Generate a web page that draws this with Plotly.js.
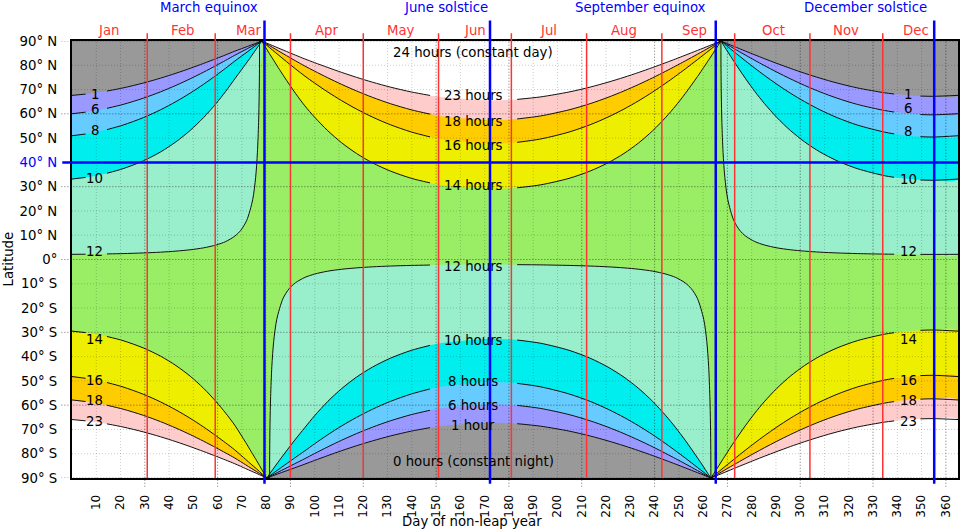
<!DOCTYPE html>
<html><head><meta charset="utf-8">
<script src="https://cdn.plot.ly/plotly-3.0.1.min.js"></script>
<style>html,body{margin:0;padding:0;background:#fff}#chart{width:960px;height:530px}</style>
</head><body><div id="chart"></div>
<script>
// ---------- DATA (day of year, latitude in degrees) ----------
// North, between the March and September equinoxes (long days): contours 14,16,18,23 h
const NS_DAY = [78.2,80.12,82.52,84.92,87.33,92.19,95.94,99.93,105.39,111.12,117.2,123.79,131.14,139.82,147.5,151.46,172.3,183.4,193.14,204.78,213.46,220.81,227.4,233.48,239.21,244.67,248.66,252.57,257.7,260.24,262.77,265.3,267.33];
const NS_14 = [90,86.78,82.93,79.12,75.39,68.26,63.27,58.64,53.03,48.06,43.68,39.82,36.44,33.43,31.55,30.77,29.04,29.53,30.77,33.43,36.44,39.82,43.68,48.06,53.03,58.64,63.27,68.26,75.39,79.12,82.93,86.78,90];
const NS_16 = [90,88.33,86.33,84.34,82.36,78.43,75.53,72.68,68.98,65.40,61.96,58.66,55.51,52.51,50.50,49.66,47.70,48.26,49.66,52.51,55.51,58.66,61.96,65.40,68.98,72.68,75.53,78.43,82.36,84.34,86.33,88.33,90];
const NS_18 = [90,88.82,87.41,85.99,84.58,81.77,79.68,77.59,74.84,72.12,69.43,66.79,64.19,61.65,59.89,59.15,57.39,57.89,59.15,61.65,64.19,66.79,69.43,72.12,74.84,77.59,79.68,81.77,84.58,85.99,87.41,88.82,90];
const NS_23 = [90,89.16,88.15,87.14,86.13,84.12,82.60,81.09,79.08,77.06,75.04,73.03,71.01,69.00,67.58,66.99,65.54,65.95,66.99,69.00,71.01,73.03,75.04,77.06,79.08,81.09,82.60,84.12,86.13,87.14,88.15,89.16,90];

// South, between the equinoxes (short days): contours 10,8,6,1 h
const SS_DAY = [80.2,80.67,83.42,86.19,91.77,95.94,99.93,105.39,111.12,117.2,123.79,131.14,139.82,147.5,151.46,172.3,183.4,193.14,204.78,213.46,220.81,227.4,233.48,239.21,244.67,248.66,252.57,257.7,260.24,262.77,263.2];
const SS_10 = [-90,-89.36,-85.51,-81.72,-74.39,-69.21,-64.36,-58.44,-53.15,-48.46,-44.31,-40.66,-37.41,-35.37,-34.51,-32.64,-33.17,-34.51,-37.41,-40.66,-44.31,-48.46,-53.15,-58.44,-64.36,-69.21,-74.39,-81.72,-85.51,-89.36,-90];
const SS_8 = [-90,-89.67,-87.67,-85.68,-81.72,-78.80,-75.92,-72.17,-68.53,-65.04,-61.67,-58.45,-55.38,-53.32,-52.46,-50.44,-51.02,-52.46,-55.38,-58.45,-61.67,-65.04,-68.53,-72.17,-75.92,-78.80,-81.72,-85.68,-87.67,-89.67,-90];
const SS_6 = [-90,-89.76,-88.35,-86.94,-84.12,-82.02,-79.93,-77.16,-74.42,-71.72,-69.06,-66.45,-63.88,-62.10,-61.36,-59.58,-60.09,-61.36,-63.88,-66.45,-69.06,-71.72,-74.42,-77.16,-79.93,-82.02,-84.12,-86.94,-88.35,-89.76,-90];
const SS_1 = [-90,-89.83,-88.82,-87.81,-85.80,-84.28,-82.77,-80.76,-78.74,-76.72,-74.71,-72.69,-70.68,-69.26,-68.67,-67.22,-67.63,-68.67,-70.68,-72.69,-74.71,-76.72,-78.74,-80.76,-82.77,-84.28,-85.80,-87.81,-88.82,-89.83,-90];

// 12 h contour between the equinoxes
const S12_DAY = [81.4,81.45,81.57,81.83,82.33,83.09,84.36,86.9,89.45,92.03,95.94,99.93,105.39,111.12,117.2,123.79,131.14,139.82,147.5,151.46,172.3,183.4,193.14,204.78,213.46,220.81,227.4,233.48,239.21,244.67,248.66,252.57,255.15,257.7,260.24,261.51,262.27,262.77,263.03,263.15,263.2];
const S12 = [-90,-78.6,-67.8,-56.45,-43.98,-33.75,-24.63,-16.14,-12.03,-9.61,-7.38,-6.00,-4.80,-4.01,-3.45,-3.02,-2.70,-2.44,-2.28,-2.22,-2.10,-2.13,-2.22,-2.44,-2.70,-3.02,-3.45,-4.01,-4.80,-6.00,-7.38,-9.61,-12.03,-16.14,-24.63,-33.75,-43.98,-56.45,-67.8,-78.6,-90];

// January -> March equinox, north (short days): 1,6,8,10 h
const WLN_DAY = [0,5.6,9.86,14.4,21.06,29.41,36.49,42.82,48.68,54.19,59.45,63.29,67.05,72.44,75.1,77.76,78.2];
const WLN_1 = [67.60,68.13,68.67,69.38,70.68,72.69,74.71,76.72,78.74,80.76,82.77,84.28,85.80,87.81,88.82,89.83,90];
const WLN_6 = [60.05,60.69,61.36,62.25,63.88,66.45,69.06,71.72,74.42,77.16,79.93,82.02,84.12,86.94,88.35,89.76,90];
const WLN_8 = [50.97,51.70,52.46,53.50,55.38,58.45,61.67,65.04,68.53,72.17,75.92,78.80,81.72,85.68,87.67,89.67,90];
const WLN_10 = [33.13,33.81,34.51,35.54,37.41,40.66,44.31,48.46,53.15,58.44,64.36,69.21,74.39,81.72,85.51,89.36,90];
// January -> March equinox, south (long days): 14,16,18,23 h
const WLS_DAY = [0,5.6,9.86,14.4,21.06,29.41,36.49,42.82,48.68,54.19,59.45,63.29,67.05,71.57,73.81,76.11,78.34,80.2];
const WLS_14 = [-29.50,-30.12,-30.77,-31.71,-33.43,-36.44,-39.82,-43.68,-48.06,-53.03,-58.64,-63.27,-68.26,-75.39,-79.12,-82.93,-86.78,-90];
const WLS_16 = [-48.22,-48.93,-49.66,-50.67,-52.51,-55.51,-58.66,-61.96,-65.40,-68.98,-72.68,-75.53,-78.43,-82.36,-84.34,-86.33,-88.33,-90];
const WLS_18 = [-57.85,-58.49,-59.15,-60.04,-61.65,-64.19,-66.79,-69.43,-72.12,-74.84,-77.59,-79.68,-81.77,-84.58,-85.99,-87.41,-88.82,-90];
const WLS_23 = [-65.92,-66.45,-66.99,-67.70,-69.00,-71.01,-73.03,-75.04,-77.06,-79.08,-81.09,-82.60,-84.12,-86.13,-87.14,-88.15,-89.16,-90];
// January -> March equinox, 12 h
const W12L_DAY = [0,5.6,9.86,14.4,21.06,29.41,36.49,42.82,48.68,54.19,59.45,63.29,67.05,69.53,71.99,74.43,75.65,76.38,76.87,77.11,77.23,77.27];
const W12L = [2.13,2.18,2.22,2.30,2.44,2.70,3.02,3.45,4.01,4.80,6.00,7.38,9.61,12.03,16.14,24.63,33.75,43.98,56.45,67.8,78.6,90];

// September equinox -> December, north (short days)
const WRN_DAY = [267.33,267.73,270.17,272.61,277.55,281.31,285.15,290.41,295.92,301.78,308.11,315.19,323.54,334.74,338.7,349.5,354.8,365];
const WRN_1 = [90,89.83,88.82,87.81,85.80,84.28,82.77,80.76,78.74,76.72,74.71,72.69,70.68,68.67,68.16,67.32,67.22,67.60];
const WRN_6 = [90,89.76,88.35,86.94,84.12,82.02,79.93,77.16,74.42,71.72,69.06,66.45,63.88,61.36,60.73,59.70,59.58,60.05];
const WRN_8 = [90,89.67,87.67,85.68,81.72,78.80,75.92,72.17,68.53,65.04,61.67,58.45,55.38,52.46,51.74,50.58,50.44,50.97];
const WRN_10 = [90,89.36,85.51,81.72,74.39,69.21,64.36,58.44,53.15,48.46,44.31,40.66,37.41,34.51,33.85,32.77,32.64,33.13];
// September equinox -> December, south (long days)
const WRS_DAY = [263.2,265.3,267.73,270.17,272.61,277.55,281.31,285.15,290.41,295.92,301.78,308.11,315.19,323.54,334.74,338.7,349.5,354.8,365];
const WRS_14 = [-90,-86.78,-82.93,-79.12,-75.39,-68.26,-63.27,-58.64,-53.03,-48.06,-43.68,-39.82,-36.44,-33.43,-30.77,-30.16,-29.16,-29.04,-29.50];
const WRS_16 = [-90,-88.33,-86.33,-84.34,-82.36,-78.43,-75.53,-72.68,-68.98,-65.40,-61.96,-58.66,-55.51,-52.51,-49.66,-48.97,-47.84,-47.70,-48.22];
const WRS_18 = [-90,-88.82,-87.41,-85.99,-84.58,-81.77,-79.68,-77.59,-74.84,-72.12,-69.43,-66.79,-64.19,-61.65,-59.15,-58.53,-57.51,-57.39,-57.85];
const WRS_23 = [-90,-89.16,-88.15,-87.14,-86.13,-84.12,-82.60,-81.09,-79.08,-77.06,-75.04,-73.03,-71.01,-69.00,-66.99,-66.48,-65.64,-65.54,-65.92];
// September equinox -> December, 12 h
const W12R_DAY = [267.33,267.37,267.49,267.73,268.22,268.95,270.17,272.61,275.07,277.55,281.31,285.15,290.41,295.92,301.78,308.11,315.19,323.54,334.74,338.7,349.5,354.8,365];
const W12R = [90,78.6,67.8,56.45,43.98,33.75,24.63,16.14,12.03,9.61,7.38,6.00,4.80,4.01,3.45,3.02,2.70,2.44,2.22,2.18,2.11,2.10,2.13];

// Calendar
const MONTHS = ['Jan','Feb','Mar','Apr','May','Jun','Jul','Aug','Sep','Oct','Nov','Dec'];
const MONTH_STARTS = [31,59,90,120,151,181,212,243,273,304,334];
const EVENTS = ['March equinox','June solstice','September equinox','December solstice'];
const EVENT_DAYS = [79.3,172.2,265.2,355.2];
const X_TICKS = [10,20,30,40,50,60,70,80,90,100,110,120,130,140,150,160,170,180,190,200,210,220,230,240,250,260,270,280,290,300,310,320,330,340,350,360];
const Y_TICKS = [90,80,70,60,50,40,30,20,10,0,-10,-20,-30,-40,-50,-60,-70,-80,-90];
const Y_TICK_TEXT = ['90° N','80° N','70° N','60° N','50° N','40° N','30° N','20° N','10° N','0°','10° S','20° S','30° S','40° S','50° S','60° S','70° S','80° S','90° S'];
const HIGHLIGHT_LAT = 40;

// ---------- STYLE / LAYOUT ----------
const C = {gray:'#999999', purple:'#9999ff', lblue:'#66ccff', cyan:'#00eeee', aqua:'#99eecc',
           green:'#99ee66', yellow:'#eeee00', orange:'#ffcc00', pink:'#ffcccc', white:'#ffffff',
           red:'#ff3333', blue:'#0000ff'};
const FONT = 'DejaVu Sans, Verdana, sans-serif';
const FS = 13.3;
const SM = 0.8;
const GAP_C = [147.5,183.4], GAP_L = [5.6,14.4], GAP_R = [338.7,349.5];

function fillTrace(x, y, color){
  return {type:'scatter', mode:'lines', x:x, y:y, fill:'toself', fillcolor:color,
          line:{width:0, color:color, shape:'spline', smoothing:SM}, hoverinfo:'skip', showlegend:false};
}
function lineTrace(days, lats, gap){
  const x=[], y=[]; let prev=null; const e=1e-6;
  for(let i=0;i<days.length;i++){
    const d=days[i];
    if(gap && d>gap[0]+e && d<gap[1]-e) continue;
    if(gap && prev!==null && prev>=gap[0]-e && d<=gap[1]+e && prev<d){ x.push(null); y.push(null); }
    x.push(d); y.push(lats[i]); prev=d;
  }
  return {type:'scatter', mode:'lines', x:x, y:y, connectgaps:false,
          line:{width:1, color:'#111', shape:'spline', smoothing:SM}, hoverinfo:'skip', showlegend:false};
}
const cat = (a,b)=>a.concat(b);

const traces = [];
const shortSets = [
  [C.aqua, W12L, S12, W12R],
  [C.cyan, WLN_10, SS_10, WRN_10],
  [C.lblue, WLN_8, SS_8, WRN_8],
  [C.purple, WLN_6, SS_6, WRN_6],
  [C.gray, WLN_1, SS_1, WRN_1]
];
shortSets.forEach((s,k)=>{
  const leftDay = k===0?W12L_DAY:WLN_DAY, midDay = k===0?S12_DAY:SS_DAY, rightDay = k===0?W12R_DAY:WRN_DAY;
  traces.push(fillTrace(cat(leftDay,[0]), cat(s[1],[90]), s[0]));
  traces.push(fillTrace(midDay, s[2], s[0]));
  traces.push(fillTrace(cat(rightDay,[365]), cat(s[3],[90]), s[0]));
});
const longSets = [
  [C.yellow, WLS_14, NS_14, WRS_14],
  [C.orange, WLS_16, NS_16, WRS_16],
  [C.pink, WLS_18, NS_18, WRS_18],
  [C.white, WLS_23, NS_23, WRS_23]
];
longSets.forEach(s=>{
  traces.push(fillTrace(cat(WLS_DAY,[0]), cat(s[1],[-90]), s[0]));
  traces.push(fillTrace(NS_DAY, s[2], s[0]));
  traces.push(fillTrace(cat(WRS_DAY,[365]), cat(s[3],[-90]), s[0]));
});
traces.push(lineTrace(W12L_DAY, W12L, GAP_L), lineTrace(S12_DAY, S12, GAP_C), lineTrace(W12R_DAY, W12R, GAP_R));
[WLN_1,WLN_6,WLN_8,WLN_10].forEach(a=>traces.push(lineTrace(WLN_DAY,a,GAP_L)));
[SS_1,SS_6,SS_8,SS_10].forEach(a=>traces.push(lineTrace(SS_DAY,a,GAP_C)));
[WRN_1,WRN_6,WRN_8,WRN_10].forEach(a=>traces.push(lineTrace(WRN_DAY,a,GAP_R)));
[WLS_14,WLS_16,WLS_18,WLS_23].forEach(a=>traces.push(lineTrace(WLS_DAY,a,GAP_L)));
[NS_14,NS_16,NS_18,NS_23].forEach(a=>traces.push(lineTrace(NS_DAY,a,GAP_C)));
[WRS_14,WRS_16,WRS_18,WRS_23].forEach(a=>traces.push(lineTrace(WRS_DAY,a,GAP_R)));

// ---------- shapes ----------
const shapes = [];
const dotMinor = {color:'rgba(0,0,0,0.2)', width:1, dash:'1px,2px'};
const dotMajor = {color:'rgba(0,0,0,0.55)', width:1, dash:'1px,2px'};
for(let d=10; d<365; d+=10){
  const major = d%30===0;
  shapes.push({type:'line', layer:'above', xref:'x', yref:'paper', x0:d, x1:d, y0:major?-0.02:0, y1:1, line:major?dotMajor:dotMinor});
}
for(let l=-90; l<=90; l+=10){
  const major = l%30===0;
  shapes.push({type:'line', layer:'above', xref:'paper', yref:'y', x0:major?-0.012:0, x1:1, y0:l, y1:l, line:major?dotMajor:dotMinor});
}
MONTH_STARTS.forEach(d=>shapes.push({type:'line', layer:'above', xref:'x', yref:'paper', x0:d, x1:d, y0:0, y1:1.018, line:{color:C.red, width:1.5}}));
EVENT_DAYS.forEach(d=>shapes.push({type:'line', layer:'above', xref:'x', yref:'paper', x0:d, x1:d, y0:-0.013, y1:1.047, line:{color:C.blue, width:2.5}}));
shapes.push({type:'line', layer:'above', xref:'paper', yref:'y', x0:-0.011, x1:1, y0:HIGHLIGHT_LAT, y1:HIGHLIGHT_LAT, line:{color:C.blue, width:2.5}});

// ---------- annotations ----------
const ann = [];
const txt = (x,y,t,opt)=>Object.assign({x:x, y:y, text:t, showarrow:false, xanchor:'center', yanchor:'middle',
                                         font:{family:FONT, size:FS, color:'#000'}}, opt||{});
const MONTH_LABEL_X = [15.2,45.6,73,105,135.5,166,196.5,227.5,256.3,288.8,319,347.6];
MONTHS.forEach((m,i)=>ann.push(txt(MONTH_LABEL_X[i], 1.0229, m, {xref:'x', yref:'paper', font:{family:FONT, size:FS, color:C.red}})));
const EVENT_LABEL_RIGHT = [77.6,172.0,262.0,352.9];
EVENTS.forEach((e,i)=>ann.push(txt(EVENT_LABEL_RIGHT[i], 1.0778, e, {xref:'x', yref:'paper', xanchor:'right', font:{family:FONT, size:FS, color:C.blue}})));
const LEFT_LABELS = [['1',68.0],['6',61.8],['8',53.3],['10',33.5],['12',3.1],['14',-33.0],['16',-49.8],['18',-58.0],['23',-66.9]];
const RIGHT_LABELS = [['1',68.0],['6',62.0],['8',52.9],['10',33.0],['12',3.1],['14',-33.0],['16',-49.8],['18',-58.0],['23',-66.9]];
const CENTER_LABELS = [['24 hours (constant day)',85.4],['23 hours',67.4],['18 hours',57.0],['16 hours',46.8],['14 hours',30.3],['12 hours',-2.7],['10 hours',-33.3],['8 hours',-50.2],['6 hours',-60.1],['1 hour',-68.3],['0 hours (constant night)',-83.4]];
LEFT_LABELS.forEach(l=>ann.push(txt(9.3, l[1], l[0], {xref:'x', yref:'y'})));
RIGHT_LABELS.forEach(l=>ann.push(txt(344.4, l[1], l[0], {xref:'x', yref:'y'})));
CENTER_LABELS.forEach(l=>ann.push(txt(165.3, l[1], l[0], {xref:'x', yref:'y'})));
ann.push(txt(0.4515, -0.099, 'Day of non-leap year', {xref:'paper', yref:'paper'}));
ann.push(txt(-0.0722, 0.5, 'Latitude', {xref:'paper', yref:'paper', textangle:-90}));

const yText = Y_TICK_TEXT.map((t,i)=>Y_TICKS[i]===HIGHLIGHT_LAT ? '<span style="color:#0000ff">'+t+'</span>' : t);

const layout = {
  width:960, height:530, margin:{l:72, r:2, t:41, b:52, pad:0},
  paper_bgcolor:'#ffffff', plot_bgcolor:C.green,
  showlegend:false,
  font:{family:FONT, size:FS, color:'#000'},
  xaxis:{range:[0,365], tickvals:X_TICKS, ticktext:X_TICKS.map(String), tickangle:-90, showgrid:false, zeroline:false,
         ticks:'', ticklabelstandoff:10, showline:true, mirror:true, linecolor:'#000', linewidth:2, layer:'above traces',
         tickfont:{family:FONT, size:12}, fixedrange:true},
  yaxis:{range:[-90,90], tickvals:Y_TICKS, ticktext:yText, showgrid:false, zeroline:false,
         ticks:'', ticklabelstandoff:10, showline:true, mirror:true, linecolor:'#000', linewidth:2, layer:'above traces',
         tickfont:{family:FONT, size:FS}, fixedrange:true},
  shapes:shapes, annotations:ann
};
Plotly.newPlot('chart', traces, layout, {displayModeBar:false, staticPlot:true});
</script></body></html>
